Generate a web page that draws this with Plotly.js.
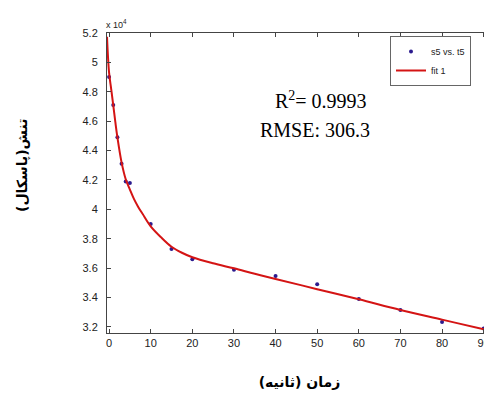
<!DOCTYPE html>
<html>
<head>
<meta charset="utf-8">
<script src="https://cdn.plot.ly/plotly-3.0.1.min.js"></script>
<style>
html,body{margin:0;padding:0;background:#fff;overflow:hidden;width:484px;height:398px;}
#chart{width:520px;height:398px;}
</style>
</head>
<body>
<div id="chart"></div>
<script>
// measured data (time in s, stress in Pa)
const tData = [0, 1, 2, 3, 4, 5, 10, 15, 20, 30, 40, 50, 60, 70, 80, 90];
const sData = [49000, 47100, 44900, 43100, 41900, 41800, 39000, 37300, 36600, 35900, 35470, 34900, 33900, 33160, 32340, 31900];
// fitted curve
const tFit = [-0.5, 0, 0.5, 1, 1.5, 2, 3, 4, 5, 6, 7, 8, 10, 12.5, 15, 17.5, 20, 25, 30, 35, 40, 50, 60, 70, 80, 90, 92];
const sFit = [51750, 49300, 48200, 47100, 45950, 44900, 43200, 42050, 41350, 40700, 40170, 39720, 38850, 38100, 37460, 37050, 36740, 36330, 35990, 35620, 35270, 34570, 33880, 33160, 32500, 31840, 31700];
// tick labels
const yTickVals = [32000, 34000, 36000, 38000, 40000, 42000, 44000, 46000, 48000, 50000, 52000];
const yTickText = ['3.2', '3.4', '3.6', '3.8', '4', '4.2', '4.4', '4.6', '4.8', '5', '5.2'];
const xTickVals = [0, 10, 20, 30, 40, 50, 60, 70, 80, 90];

const traces = [
  {x: tData, y: sData, type: 'scatter', mode: 'markers', name: 's5 vs. t5',
   marker: {color: '#2b1b8e', size: 4, symbol: 'circle'}},
  {x: tFit, y: sFit, type: 'scatter', mode: 'lines', name: 'fit 1', line: {color: '#d41414', width: 2, shape: 'spline'}}
];

const axFont = {family: 'Liberation Sans, Arial, sans-serif', size: 11, color: '#222'};
const layout = {
  width: 520, height: 398,
  margin: {l: 107, r: 28, t: 33, b: 65},
  paper_bgcolor: '#fff', plot_bgcolor: '#fff',
  showlegend: true,
  legend: {x: (390-107)/385, y: 1-(36-33)/300, xanchor: 'left', yanchor: 'top', bgcolor: '#fff', bordercolor: '#666', borderwidth: 1,
    font: {family: 'Liberation Sans, Arial, sans-serif', size: 9, color: '#222'}, tracegroupgap: 0, itemwidth: 30},
  xaxis: {range: [-0.5, 92], tickvals: xTickVals, ticks: 'inside', ticklen: 4, tickcolor: '#444', showline: true, linecolor: '#444', linewidth: 1,
    mirror: 'ticks', showgrid: false, zeroline: false, tickfont: axFont,
    title: {text: 'زمان (ثانیه)', font: {family: 'DejaVu Sans', size: 14, color: '#000', weight: 'bold'}, standoff: 28}},
  yaxis: {range: [31590, 52000], tickvals: yTickVals, ticktext: yTickText, ticks: 'inside', ticklen: 4, tickcolor: '#444', showline: true, linecolor: '#444', linewidth: 1,
    showgrid: false, zeroline: false, tickfont: axFont, ticklabelstandoff: 6},
  annotations: [
    {xref: 'paper', yref: 'paper', x: -0.008, y: 1.005, xanchor: 'left', yanchor: 'bottom', showarrow: false,
     text: 'x 10<sup>4</sup>', font: {family: 'Liberation Sans, Arial, sans-serif', size: 9, color: '#222'}},
    {xref: 'paper', yref: 'paper', x: (321-107)/385, y: 1-(100-33)/300, xanchor: 'center', yanchor: 'middle', showarrow: false,
     text: 'R<sup>2</sup>= 0.9993', font: {family: 'Liberation Serif, Times New Roman, serif', size: 20, color: '#000'}},
    {xref: 'paper', yref: 'paper', x: (315-107)/385, y: 1-(130-33)/300, xanchor: 'center', yanchor: 'middle', showarrow: false,
     text: 'RMSE: 306.3', font: {family: 'Liberation Serif, Times New Roman, serif', size: 20, color: '#000'}},
    {xref: 'paper', yref: 'paper', x: (22-107)/385, y: 1-(166-33)/300, xanchor: 'center', yanchor: 'middle', showarrow: false, textangle: -90,
     text: 'تنش(پاسکال)', font: {family: 'DejaVu Sans', size: 14, color: '#000', weight: 'bold'}}
  ]
};
Plotly.newPlot('chart', traces, layout, {displayModeBar: false, staticPlot: true});
</script>
</body>
</html>
